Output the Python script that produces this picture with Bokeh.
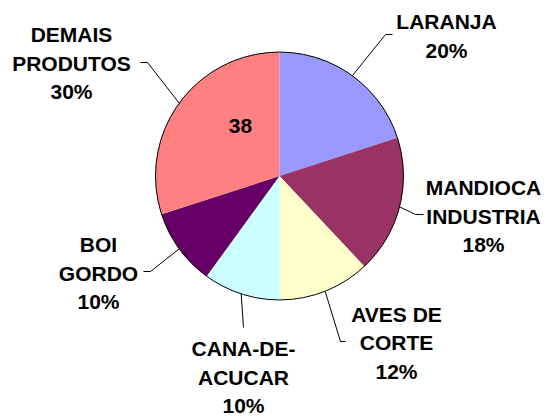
import math
from bokeh.plotting import figure
from bokeh.models import Range1d, ColumnDataSource
from bokeh.core.properties import value
from bokeh.embed import file_html
from bokeh.resources import INLINE

# ---- data ----
categories = ["LARANJA", "MANDIOCA\nINDUSTRIA", "AVES DE\nCORTE",
              "CANA-DE-\nACUCAR", "BOI\nGORDO", "DEMAIS\nPRODUTOS"]
shares = [20, 18, 12, 10, 10, 30]
colors = ["#9999FF", "#993366", "#FFFFCC", "#CCFFFF", "#660066", "#FF8080"]
inner_label = "38"   # value printed inside DEMAIS PRODUTOS slice

# ---- layout (x right, y = 416 - screen y) ----
W, H = 547, 416
CX, CY, R = 279, 416 - 175.5, 124
FONT = "Liberation Sans"
FS = "21px"
LINE_GAP = 28.7
# per-slice: leader elbow, leader end, label centre x, label first-line centre y (screen coords)
elbows = [(385, 34), (415, 214), (340, 341), (243, 327), (150, 271), (147, 62)]
ends = [(392, 34), (423, 214), (345, 341), (243, 327), (143, 271), (140, 62)]
label_x = [446, 483, 396, 243, 98, 71]
label_y0 = [21, 187, 313.5, 348, 244, 34]
inner_pos = (240, 125)

p = figure(width=W, height=H, output_backend="svg", toolbar_location=None,
           x_range=Range1d(0, W), y_range=Range1d(0, H),
           min_border=0)
p.axis.visible = False
p.grid.visible = False
p.outline_line_color = None
p.background_fill_color = "white"
p.border_fill_color = "white"

total = sum(shares)
starts, stops, mids = [], [], []
cum = 0.0
for s in shares:
    a0 = math.pi / 2 - 2 * math.pi * cum / total
    cum += s
    a1 = math.pi / 2 - 2 * math.pi * cum / total
    starts.append(a0)
    stops.append(a1)
    mids.append((a0 + a1) / 2)

src = ColumnDataSource(dict(start=starts, end=stops, color=colors))
p.wedge(x=CX, y=CY, radius=R, start_angle="start", end_angle="end",
        direction="clock", fill_color="color", line_color=None, source=src)
p.circle(x=[CX], y=[CY], radius=R, fill_color=None, line_color="black", line_width=1)

# leader lines
xs, ys = [], []
for m, el, en in zip(mids, elbows, ends):
    sx = CX + R * math.cos(m)
    sy = CY + R * math.sin(m)
    xs.append([sx, el[0], en[0]])
    ys.append([sy, 416 - el[1], 416 - en[1]])
p.multi_line(xs=xs, ys=ys, line_color="black", line_width=1)

# labels
tx, ty, tt = [], [], []
for cat, s, lx, ly in zip(categories, shares, label_x, label_y0):
    lines = cat.split("\n") + [f"{s}%"]
    for i, ln in enumerate(lines):
        tx.append(lx)
        ty.append(416 - (ly + i * LINE_GAP))
        tt.append(ln)
p.text(x=tx, y=ty, text=tt, text_font=value(FONT), text_font_size=FS,
       text_font_style="bold", text_align="center", text_baseline="middle",
       text_color="black")
p.text(x=[inner_pos[0]], y=[416 - inner_pos[1]], text=[inner_label],
       text_font=value(FONT), text_font_size=FS, text_font_style="bold",
       text_align="center", text_baseline="middle", text_color="black")

open("out.html", "w").write(file_html(p, INLINE))
